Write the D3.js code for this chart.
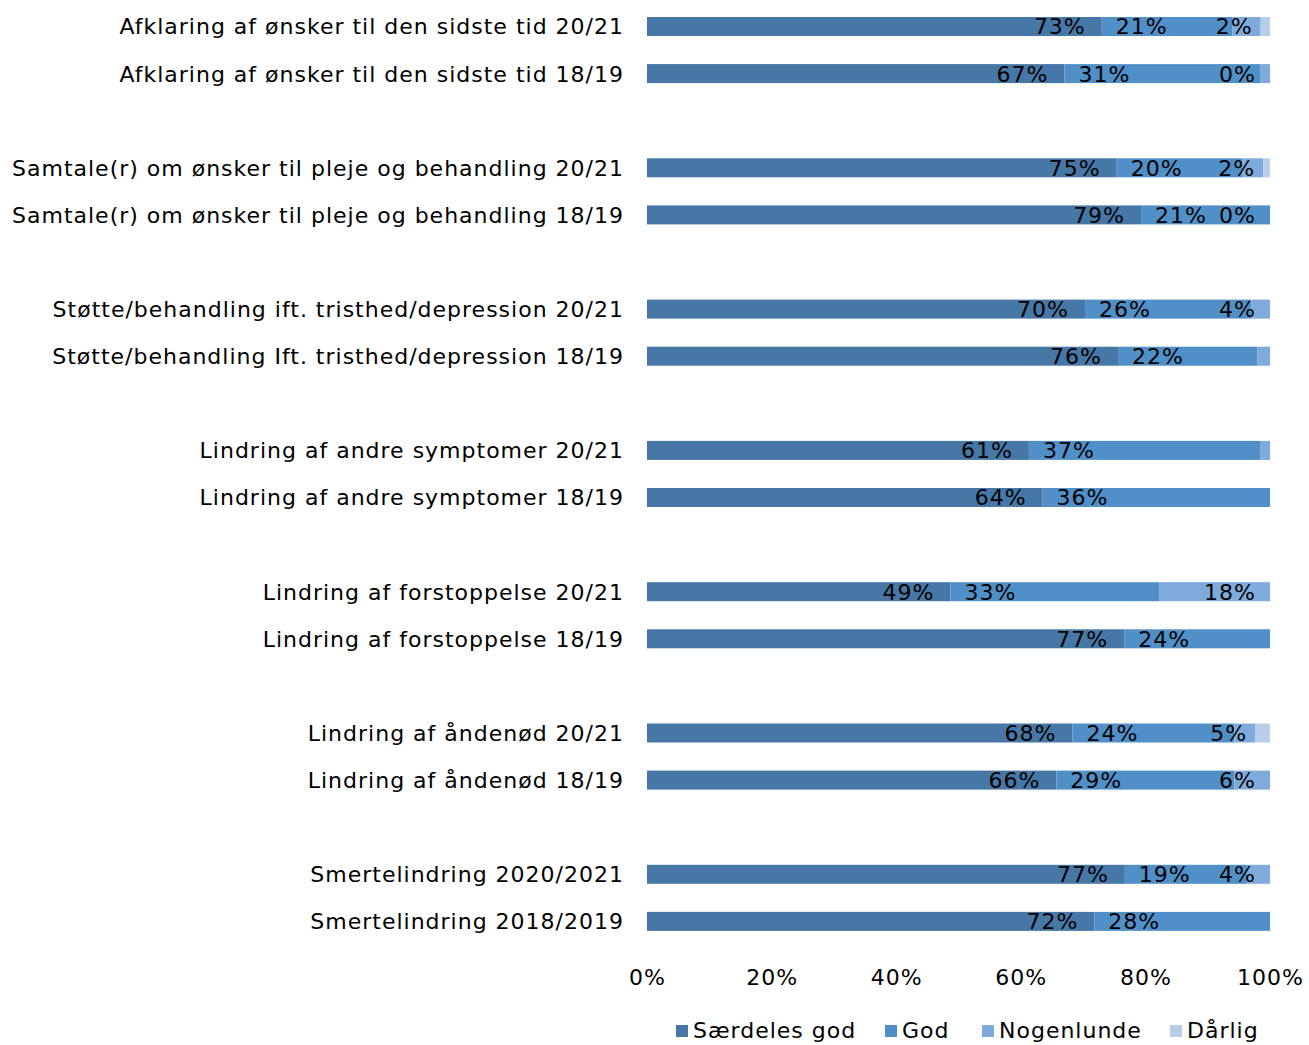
<!DOCTYPE html>
<html>
<head>
<meta charset="utf-8">
<script src="https://cdn.jsdelivr.net/npm/d3@7"></script>
<style>
body { margin: 0; background: #fff; }
text { font-family: "DejaVu Sans", Verdana, sans-serif; letter-spacing: 1px; }
</style>
</head>
<body>
<svg id="chart" width="1309" height="1045"></svg>
<script>
const categories = [
  "Afklaring af ønsker til den sidste tid 20/21",
  "Afklaring af ønsker til den sidste tid 18/19",
  "Samtale(r) om ønsker til pleje og behandling 20/21",
  "Samtale(r) om ønsker til pleje og behandling 18/19",
  "Støtte/behandling ift. tristhed/depression 20/21",
  "Støtte/behandling Ift. tristhed/depression 18/19",
  "Lindring af andre symptomer 20/21",
  "Lindring af andre symptomer 18/19",
  "Lindring af forstoppelse 20/21",
  "Lindring af forstoppelse 18/19",
  "Lindring af åndenød 20/21",
  "Lindring af åndenød 18/19",
  "Smertelindring 2020/2021",
  "Smertelindring 2018/2019"
];
const seriesNames = ["Særdeles god", "God", "Nogenlunde", "Dårlig"];
// segment shares (percent) as drawn
const saerdelesGod = [73, 67, 75.4, 79.3, 70.3, 75.6, 61.3, 63.5, 48.7, 76.6, 68.3, 65.7, 76.7, 71.8];
const god          = [21, 31.5, 20.1, 20.7, 26.7, 22.4, 37.1, 36.5, 33.5, 23.4, 26, 28.6, 19.6, 28.2];
const nogenlunde   = [4.5, 1.5, 3.4, 0, 3, 2, 1.6, 0, 17.8, 0, 3.3, 5.7, 3.7, 0];
const daarlig      = [1.5, 0, 1.1, 0, 0, 0, 0, 0, 0, 0, 2.4, 0, 0, 0];
// printed data labels (null = no label)
const labelSaerdeles = ["73%", "67%", "75%", "79%", "70%", "76%", "61%", "64%", "49%", "77%", "68%", "66%", "77%", "72%"];
const labelGod       = ["21%", "31%", "20%", "21%", "26%", "22%", "37%", "36%", "33%", "24%", "24%", "29%", "19%", "28%"];
const labelNogen     = ["2%", "0%", "2%", "0%", "4%", null, null, null, "18%", null, "5%", "6%", "4%", null];
const xTicks = [0, 20, 40, 60, 80, 100];
const colors = ["#4777a7", "#508fc7", "#7fabdc", "#b8cdea"];

const svg = d3.select("#chart");
const FS = 22;
const x = d3.scaleLinear().domain([0, 100]).range([647, 1270]);
// pairs separated by one empty slot
const slotOf = i => i + Math.floor(i / 2);
const y = d3.scalePoint().domain(d3.range(20)).range([26.5, 921.4]);
const barH = 19;

const rows = categories.map((c, i) => ({
  cat: c, i,
  vals: [saerdelesGod[i], god[i], nogenlunde[i], daarlig[i]]
}));

const stack = d3.stack().keys([0, 1, 2, 3]).value((d, k) => d.vals[k]);
const layers = stack(rows);

svg.append("g").selectAll("g").data(layers).join("g")
  .attr("fill", (d, k) => colors[k])
  .selectAll("rect").data(d => d).join("rect")
  .attr("x", d => x(d[0]))
  .attr("width", d => Math.max(0, x(d[1]) - x(d[0])))
  .attr("y", d => y(slotOf(d.data.i)) - barH / 2)
  .attr("height", barH);

// category labels
svg.append("g").selectAll("text").data(rows).join("text")
  .attr("x", 624)
  .attr("y", d => y(slotOf(d.i)))
  .attr("dy", "0.36em")
  .attr("text-anchor", "end")
  .attr("font-size", FS)
  .attr("fill", "#000")
  .text(d => d.cat);

// data labels
const lbl = svg.append("g").attr("font-size", FS).attr("fill", "#000");
rows.forEach((d, i) => {
  const cy = y(slotOf(i));
  const e1 = x(saerdelesGod[i]);
  lbl.append("text").attr("x", e1 - 16).attr("y", cy).attr("dy", "0.36em")
    .attr("text-anchor", "end").text(labelSaerdeles[i]);
  lbl.append("text").attr("x", e1 + 14).attr("y", cy).attr("dy", "0.36em")
    .attr("text-anchor", "start").text(labelGod[i]);
  if (labelNogen[i]) {
    const e3 = x(saerdelesGod[i] + god[i] + nogenlunde[i]);
    lbl.append("text").attr("x", Math.min(e3 - 8, x(100) - 14)).attr("y", cy).attr("dy", "0.36em")
      .attr("text-anchor", "end").text(labelNogen[i]);
  }
});

// x axis (no line)
const axis = d3.axisBottom(x).tickValues(xTicks).tickFormat(d => d + "%").tickSize(0).tickPadding(0);
const ax = svg.append("g").attr("transform", "translate(0,969)").call(axis);
ax.select(".domain").remove();
ax.selectAll("text").attr("font-size", FS).attr("fill", "#000").attr("font-family", "DejaVu Sans, Verdana, sans-serif");

// legend
const legendX = [676, 885, 982, 1170];
const lg = svg.append("g");
seriesNames.forEach((n, k) => {
  lg.append("rect").attr("x", legendX[k]).attr("y", 1025).attr("width", 12).attr("height", 12).attr("fill", colors[k]);
  lg.append("text").attr("x", legendX[k] + 17).attr("y", 1030).attr("dy", "0.36em")
    .attr("font-size", FS).attr("fill", "#000").text(n);
});
</script>
</body>
</html>
